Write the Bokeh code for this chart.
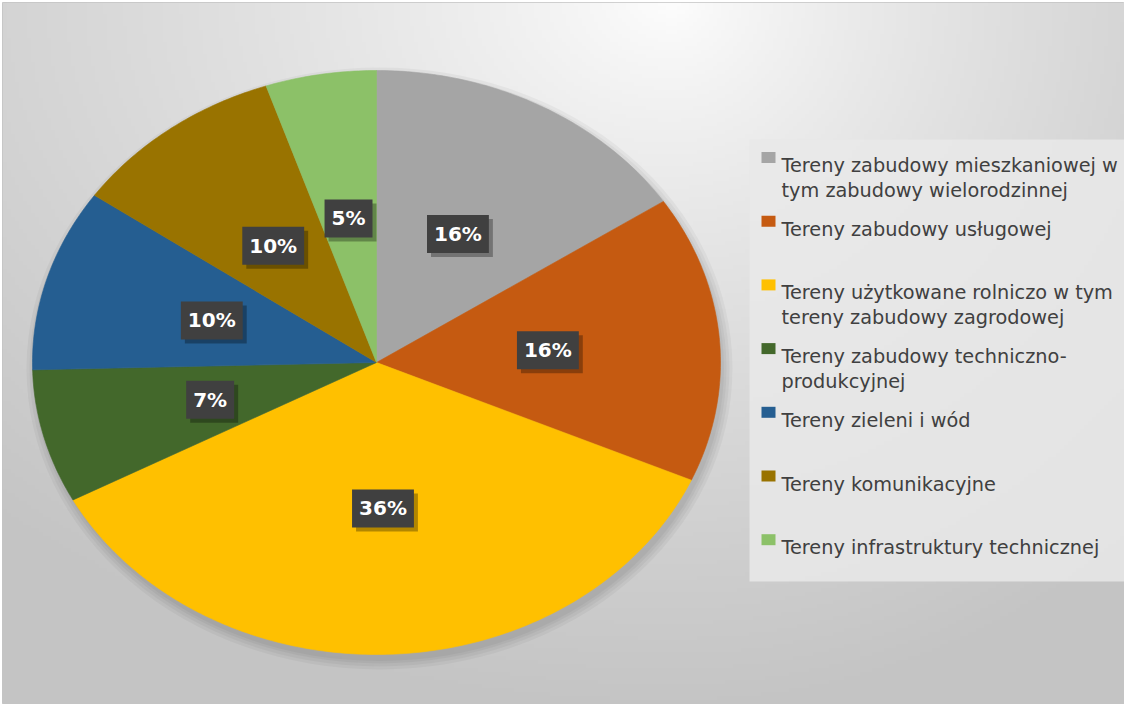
import numpy as np
from bokeh.plotting import figure
from bokeh.models import Range1d, ColumnDataSource
from bokeh.core.properties import value
from bokeh.embed import file_html
from bokeh.resources import INLINE

# ---- data ----
categories = [
    "Tereny zabudowy mieszkaniowej w\ntym zabudowy wielorodzinnej",
    "Tereny zabudowy usługowej",
    "Tereny użytkowane rolniczo w tym\ntereny zabudowy zagrodowej",
    "Tereny zabudowy techniczno-\nprodukcyjnej",
    "Tereny zieleni i wód",
    "Tereny komunikacyjne",
    "Tereny infrastruktury technicznej",
]
shares = [15.7, 15.9, 35.6, 7.4, 10.1, 10.1, 5.2]
colors = ["#A5A5A5", "#C55A11", "#FFC000", "#43682B", "#255E91", "#997300", "#8CC168"]

# ---- geometry (screen px -> data: x same, y = 720 - y_screen) ----
W, H = 1124, 704
X0, Y0 = 10, 10
X1, Y1 = X0 + W - 2, Y0 + H - 2


def Y(s):
    return 720 - s


CX, CY = 384, Y(370)
RX, RY = 344, 292

p = figure(width=W, height=H, output_backend="svg", toolbar_location=None,
           x_range=Range1d(X0, X1), y_range=Range1d(Y(Y1), Y(Y0)),
           min_border_left=2, min_border_top=2, min_border_right=0, min_border_bottom=0)
p.axis.visible = False
p.grid.visible = False
p.border_fill_color = "white"
p.background_fill_color = "#e0e0e0"
p.outline_line_color = "#c4c4c4"
p.outline_line_width = 1

# background gradient
gw, gh = 281, 176
gx = np.linspace(X0, X1, gw)
gy_s = np.linspace(Y1, Y0, gh)  # row 0 at bottom
XX, YY = np.meshgrid(gx, gy_s)
dx = XX - 680
dx = np.where(dx < 0, dx * 0.72, dx)
d = np.sqrt(dx ** 2 + (YY - 5) ** 2)
v = 254 - 58 * np.clip(d / 720, 0, 1) ** 0.8
img = np.zeros((gh, gw), dtype=np.uint32)
view = img.view(dtype=np.uint8).reshape((gh, gw, 4))
vv = v.astype(np.uint8)
view[:, :, 0] = vv
view[:, :, 1] = vv
view[:, :, 2] = vv
view[:, :, 3] = 255
p.image_rgba(image=[img], x=X0, y=Y(Y1), dw=X1 - X0, dh=Y1 - Y0)

# pie shadow
for k in [18, 12, 6, 1]:
    p.ellipse(x=CX + 3, y=CY - 6, width=2 * RX + k, height=2 * RY + k,
              fill_color="black", fill_alpha=0.04, line_color=None)

# slices
vals = np.array(shares, dtype=float)
total = vals.sum()
fr = vals / total
ends = np.cumsum(fr)
starts = ends - fr
xs, ys = [], []
lx, ly, labels = [], [], []
for s0, s1, f in zip(starts, ends, fr):
    t = np.linspace(2 * np.pi * s0, 2 * np.pi * s1, max(3, int(f * 500)))
    xs.append([CX] + list(CX + RX * np.sin(t)))
    ys.append([CY] + list(CY + RY * np.cos(t)))
    tm = 2 * np.pi * (s0 + s1) / 2
    lx.append(CX + 0.5 * RX * np.sin(tm))
    ly.append(CY + 0.5 * RY * np.cos(tm))
    labels.append(f"{round(f * 100):d}%")

p.patches(xs=xs, ys=ys, fill_color=colors, line_color=colors, line_width=0.6)

lsrc = ColumnDataSource(dict(x=lx, y=ly, t=labels))
p.text(x="x", y="y", text="t", source=lsrc, x_offset=4, y_offset=4,
       text_align="center", text_baseline="middle",
       text_font=value("DejaVu Sans"), text_font_style="bold", text_font_size="20px",
       text_alpha=0.0, background_fill_color="black", background_fill_alpha=0.3, padding=7)
p.text(x="x", y="y", text="t", source=lsrc,
       text_align="center", text_baseline="middle",
       text_font=value("DejaVu Sans"), text_font_style="bold", text_font_size="20px",
       text_color="white", background_fill_color="#404040", padding=7)

# legend
p.quad(left=757, right=X1 + 2, top=Y(147), bottom=Y(589),
       fill_color="#e9e9e9", fill_alpha=0.85, line_color=None)
step = 63.7
sq_x, sq_y, tx, ty, tt = [], [], [], [], []
for i, c in enumerate(categories):
    cy_s = 165 + i * step
    sq_x.append(776)
    sq_y.append(Y(cy_s))
    for j, line in enumerate(c.split("\n")):
        tx.append(789)
        ty.append(Y(cy_s + 8 + j * 25))
        tt.append(line)
p.rect(x=sq_x, y=sq_y, width=14, height=11, fill_color=colors, line_color=None)
p.text(x=tx, y=ty, text=tt, text_align="left", text_baseline="alphabetic",
       text_font=value("DejaVu Sans"), text_font_size="19.3px", text_color="#404040")

open("out.html", "w").write(file_html(p, INLINE))
